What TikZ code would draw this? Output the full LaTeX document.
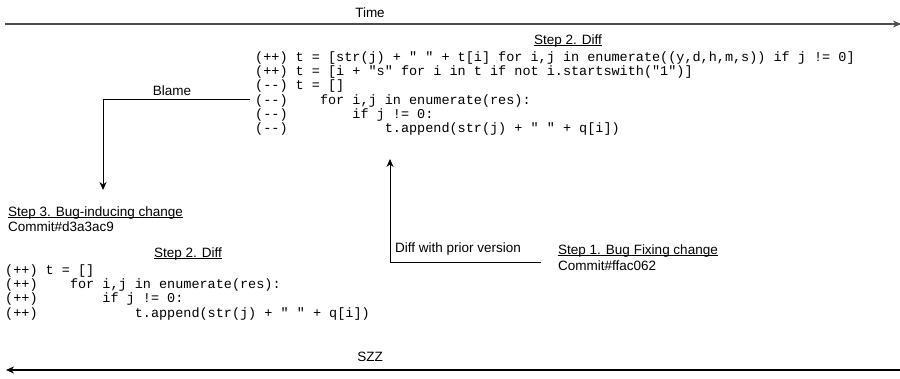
\documentclass[tikz,border=0pt]{standalone}
\usepackage{fontspec}
\setmainfont{Liberation Sans}
\newfontfamily\codefont{Liberation Mono}
\usetikzlibrary{arrows.meta}

% underline drawn just under the baseline, running through descenders
\newcommand\headline[1]{\setbox0\hbox{#1}\rlap{\rule[-1.6pt]{\wd0}{0.75pt}}\box0}

\tikzset{
  label/.style={font=\fontsize{13.5}{16}\selectfont, inner sep=1pt},
  code/.style={font=\codefont\fontsize{13.5}{16}\selectfont, inner sep=1pt, anchor=west},
  conn/.style={draw=black, line width=1pt, -{Stealth[length=8pt,width=7pt]}},
  timeline/.style={line width=1.4pt, -{Stealth[length=8pt,width=7pt]}}
}

\begin{document}
\begin{tikzpicture}[x=1pt,y=-1pt]
\useasboundingbox (0,0) rectangle (900,379);

% time axis on top, SZZ axis at the bottom
\node[label] (time) at (370,13) {Time};
\coordinate (tl) at (5,24);
\coordinate (tr) at (901,24);
\draw[timeline, draw=black!70] (tl) -- (tr);

\node[label] (szz) at (370,357) {SZZ};
\coordinate (sr) at (900,370);
\coordinate (sl) at (6,370);
\draw[timeline] (sr) -- (sl);

% diff of the bug fixing commit
\node[label] (diffA) at (568,41) {\headline{Step 2. Diff}};
\node[code] (a1) at (254,58)  {(++)~t~=~[str(j)~+~"~"~+~t[i]~for~i,j~in~enumerate((y,d,h,m,s))~if~j~!=~0]};
\node[code] (a2) at (254,72.2)  {(++)~t~=~[i~+~"s"~for~i~in~t~if~not~i.startswith("1")]};
\node[code] (a3) at (254,86.4)  {(-{}-)~t~=~[]};
\node[code] (a4) at (254,100.6) {(-{}-)~~~~for~i,j~in~enumerate(res):};
\node[code] (a5) at (254,114.8) {(-{}-)~~~~~~~~if~j~!=~0:};
\node[code] (a6) at (254,129) {(-{}-)~~~~~~~~~~~~t.append(str(j)~+~"~"~+~q[i])};

% step 1: bug fixing change
\node[label, anchor=west] (s1) at (557,251) {\headline{Step 1. Bug Fixing change}};
\node[label, anchor=west] (c1) at (557,266) {Commit\#ffac062};

\coordinate (dstart) at (541,263);
\coordinate (dend) at (390,159);
\draw[conn] (dstart) -| (dend);
\node[label, anchor=west] (dlab) at (394,249) {Diff with prior version};

% blame back to the bug-inducing change
\coordinate (bstart) at (250,100);
\coordinate (bend) at (103,190);
\draw[conn] (bstart) -| (bend);
\node[label] (blame) at (172,91) {Blame};

\node[label, anchor=west] (s3) at (7,213) {\headline{Step 3. Bug-inducing change}};
\node[label, anchor=west] (c3) at (7,227) {Commit\#d3a3ac9};

% diff of the bug-inducing commit
\node[label] (diffB) at (188,254) {\headline{Step 2. Diff}};
\node[code] (b1) at (4,271) {(++)~t~=~[]};
\node[code] (b2) at (4,285.2) {(++)~~~~for~i,j~in~enumerate(res):};
\node[code] (b3) at (4,299.4) {(++)~~~~~~~~if~j~!=~0:};
\node[code] (b4) at (4,313.6) {(++)~~~~~~~~~~~~t.append(str(j)~+~"~"~+~q[i])};
\end{tikzpicture}
\end{document}
